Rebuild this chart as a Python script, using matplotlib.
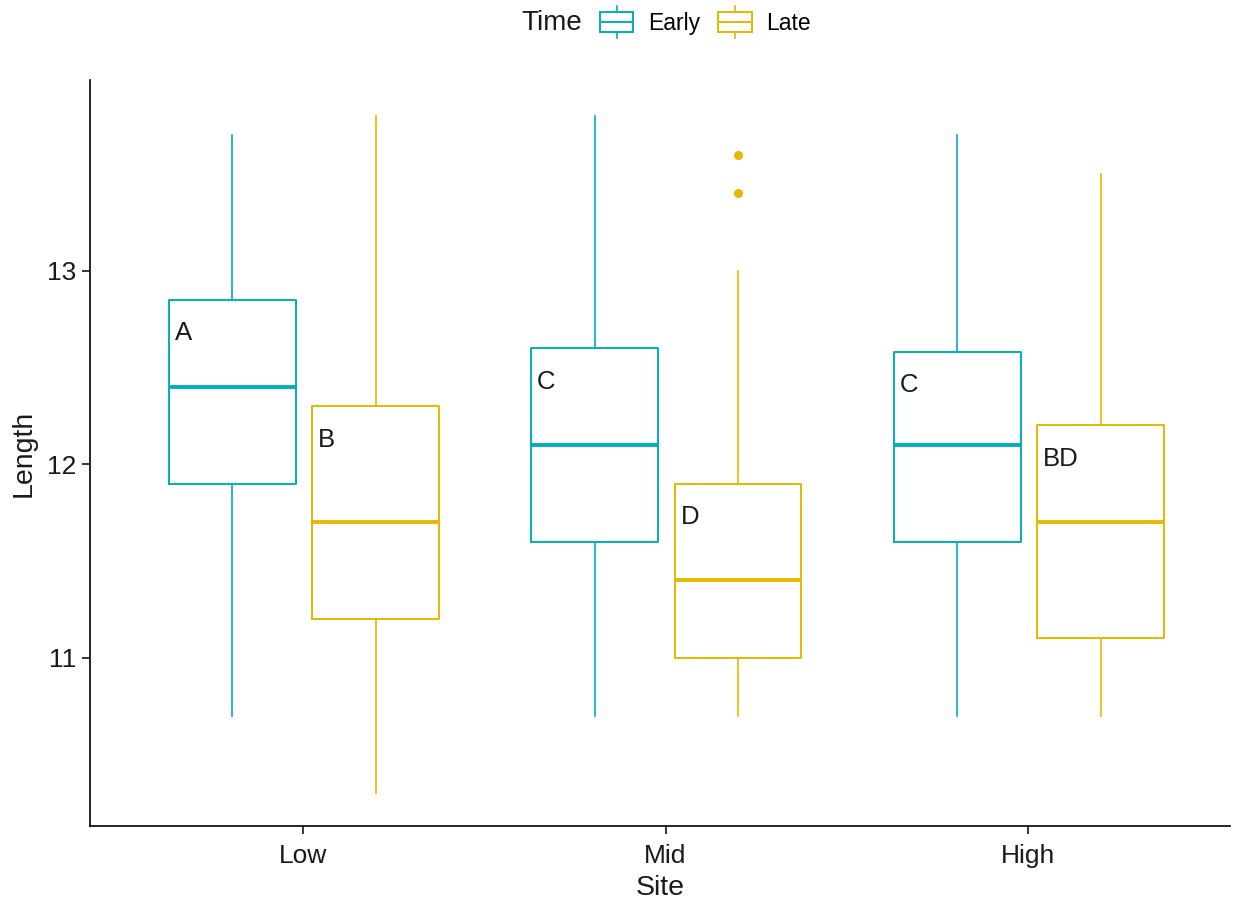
import matplotlib
matplotlib.use("Agg")
import matplotlib.pyplot as plt
from matplotlib.legend_handler import HandlerBase
from matplotlib.patches import Rectangle, Patch
from matplotlib.lines import Line2D

plt.rcParams['font.family'] = ['Liberation Sans', 'DejaVu Sans']

# summary stats per group, read as (site, time)
sites = ["Low", "Mid", "High"]
times = ["Early", "Late"]
colors = {"Early": "#00AFBB", "Late": "#E7B800"}

whislo = {"Early": [10.7, 10.7, 10.7], "Late": [10.3, 10.7, 10.7]}
q1 = {"Early": [11.9, 11.6, 11.6], "Late": [11.2, 11.0, 11.1]}
med = {"Early": [12.4, 12.1, 12.1], "Late": [11.7, 11.4, 11.7]}
q3 = {"Early": [12.85, 12.6, 12.58], "Late": [12.3, 11.9, 12.2]}
whishi = {"Early": [13.7, 13.8, 13.7], "Late": [13.8, 13.0, 13.5]}
fliers = {"Early": [[], [], []], "Late": [[], [13.6, 13.4], []]}
letters = {"Early": ["A", "C", "C"], "Late": ["B", "D", "BD"]}

fig = plt.figure(figsize=(12.44, 9.01), dpi=100)
ax = fig.add_axes([0.0723, 0.0832, 0.9164, 0.828])

offset = {"Early": -0.195, "Late": 0.2}
box_w = 0.35
txt = '#1a1a1a'

for t in times:
    c = colors[t]
    stats = []
    pos = []
    for i, s in enumerate(sites):
        stats.append(dict(med=med[t][i], q1=q1[t][i], q3=q3[t][i],
                          whislo=whislo[t][i], whishi=whishi[t][i],
                          fliers=fliers[t][i]))
        pos.append(i + 1 + offset[t])
    ax.bxp(stats, positions=pos, widths=box_w, showcaps=False,
           boxprops=dict(color=c, linewidth=1.4),
           whiskerprops=dict(color=c, linewidth=1.2),
           medianprops=dict(color=c, linewidth=2.8, solid_capstyle='butt'),
           flierprops=dict(marker='o', markerfacecolor=c, markeredgecolor=c,
                           markersize=5.5, linestyle='none'))
    for i in range(len(sites)):
        ax.text(i + 1 + offset[t] - box_w / 2 + 0.016, q3[t][i] - 0.16,
                letters[t][i], ha='left', va='center_baseline', fontsize=18.5,
                color=txt)

ax.set_xlim(0.412, 3.557)
ax.set_ylim(10.13, 13.985)
ax.set_xticks([1, 2, 3])
ax.set_xticklabels(sites)
ax.set_yticks([11, 12, 13])
ax.tick_params(axis='both', labelsize=19, length=6, width=1.1,
               colors='black', labelcolor=txt)
ax.tick_params(axis='y', pad=4)
ax.tick_params(axis='x', pad=7)
for side in ['top', 'right']:
    ax.spines[side].set_visible(False)
for side in ['left', 'bottom']:
    ax.spines[side].set_linewidth(1.2)
ax.set_xlabel("Site", fontsize=20.5, labelpad=5, color=txt)
ax.set_ylabel("Length", fontsize=20.5, labelpad=7, color=txt)


class BoxKey(HandlerBase):
    def create_artists(self, legend, orig_handle, xdescent, ydescent,
                       width, height, fontsize, trans):
        c = orig_handle.get_edgecolor()
        h = height * 0.95
        y0 = -ydescent + (height - h) / 2
        rect = Rectangle((-xdescent, y0), width, h, fill=False,
                         edgecolor=c, linewidth=1.4, transform=trans)
        mid = Line2D([-xdescent, -xdescent + width],
                     [y0 + h / 2, y0 + h / 2], color=c, linewidth=1.4,
                     transform=trans)
        xc = -xdescent + width / 2
        top = Line2D([xc, xc], [y0 + h, y0 + h + height * 0.3], color=c,
                     linewidth=1.2, transform=trans)
        bot = Line2D([xc, xc], [y0, y0 - height * 0.3], color=c,
                     linewidth=1.2, transform=trans)
        return [rect, mid, top, bot]


handles = [Patch(edgecolor=colors[t], facecolor='none') for t in times]
fig.text(0.4195, 0.974, "Time", fontsize=20, ha='left', va='center',
         color=txt)
fig.legend(handles, times, handler_map={Patch: BoxKey()}, ncol=2,
           loc='center left', bbox_to_anchor=(0.4825, 0.974), frameon=False,
           fontsize=16.5, handlelength=1.45, handleheight=1.0,
           handletextpad=0.65, columnspacing=0.78, borderaxespad=0,
           borderpad=0)

fig.savefig("out.png", dpi=100)
